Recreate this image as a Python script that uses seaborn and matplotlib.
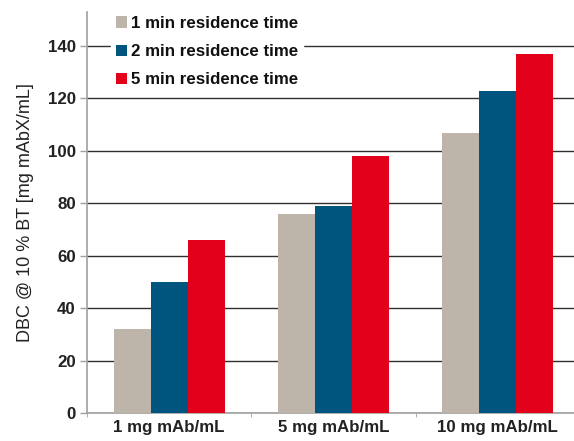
import pandas as pd
import matplotlib
matplotlib.use("Agg")
import matplotlib.pyplot as plt
import seaborn as sns

# values
concentrations = ['1 mg mAb/mL', '5 mg mAb/mL', '10 mg mAb/mL']
residence_times = ['1 min residence time', '2 min residence time', '5 min residence time']
dbc_1min = [32, 76, 107]
dbc_2min = [50, 79, 123]
dbc_5min = [66, 98, 137]
y_ticks = [0, 20, 40, 60, 80, 100, 120, 140]

colours = ['#BDB5A9', '#00557F', '#E2001A']

df = pd.DataFrame({
    'Concentration': concentrations * 3,
    'Residence': [r for r in residence_times for _ in concentrations],
    'DBC': dbc_1min + dbc_2min + dbc_5min,
})

sns.set_style('white')
plt.rcParams['font.family'] = ['Liberation Sans', 'DejaVu Sans']

fig = plt.figure(figsize=(5.74, 4.41), dpi=100)
ax = fig.add_axes([87 / 574, 28 / 441, 493 / 574, 401 / 441])

sns.barplot(data=df, x='Concentration', y='DBC', hue='Residence',
            hue_order=residence_times, palette=colours,
            width=0.675, gap=0, saturation=1, linewidth=0, ax=ax, zorder=3)

# gridlines
ax.set_ylim(0, 153)
ax.set_xlim(-0.5, 2.5)
ax.set_yticks(y_ticks)
ax.yaxis.grid(True, color='#303030', linewidth=1, zorder=0)
ax.set_axisbelow(True)

for side in ['top', 'right']:
    ax.spines[side].set_visible(False)
ax.spines['left'].set_color('#A0A0A0')
ax.spines['bottom'].set_color('#A0A0A0')
ax.spines['left'].set_linewidth(1.2)
ax.spines['bottom'].set_linewidth(1.2)

ax.tick_params(axis='y', length=5, color='#A0A0A0', width=1, pad=3, left=True)
ax.tick_params(axis='x', which='major', length=0, pad=5)
ax.set_xticks([-0.5, 0.5, 1.5], minor=True)
ax.tick_params(axis='x', which='minor', length=3, color='#A0A0A0', bottom=True)

for lbl in ax.get_yticklabels() + ax.get_xticklabels():
    lbl.set_fontweight('bold')
    lbl.set_fontsize(12.2)
    lbl.set_color('#222222')

ax.set_xlabel('')
ax.set_ylabel('DBC @ 10 % BT [mg mAbX/mL]', fontsize=13, color='#222222', labelpad=10)

handles, labels = ax.get_legend_handles_labels()
leg = ax.legend(handles, labels, loc='upper left', bbox_to_anchor=(0.031, 1.024),
                frameon=True, facecolor='white', edgecolor='white', framealpha=1,
                handlelength=0.65, handleheight=0.65, handletextpad=0.25,
                labelspacing=0.78, borderpad=0.3, fontsize=12.2)
for t in leg.get_texts():
    t.set_fontweight('bold')
    t.set_color('#111111')
leg.set_zorder(5)

fig.savefig('out.png', dpi=100)
